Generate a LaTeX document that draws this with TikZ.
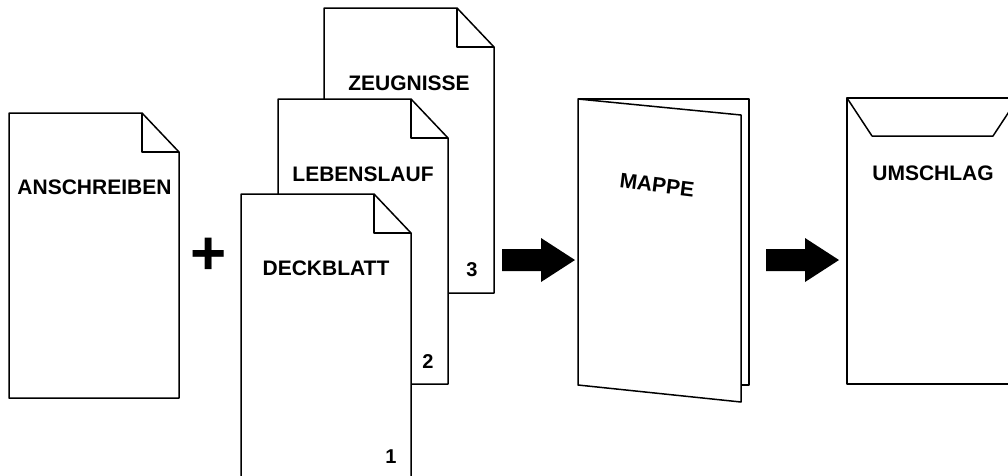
\documentclass[tikz,border=0pt]{standalone}
\usepackage{fontspec}
\setmainfont{Liberation Sans}
\begin{document}
\begin{tikzpicture}[x=1pt, y=-1pt, line width=1.5pt, line join=round,
  sheet/.style={draw=black, fill=white},
  title/.style={font=\bfseries\fontsize{21}{24}\selectfont, inner sep=0pt},
  pagenum/.style={font=\bfseries\fontsize{20}{24}\selectfont, inner sep=0pt},
  docsheet/.pic={
    \path[sheet] (0,0) -- (133,0) -- (170,39) -- (170,285) -- (0,285) -- cycle;
    \draw (133,0) -- (133,39) -- (170,39);
  },
  blockarrow/.pic={
    \fill[black] (0,-11) -- (39,-11) -- (39,-22) -- (73,0) -- (39,22) -- (39,11) -- (0,11) -- cycle;
  }]
\clip (0,0) rectangle (1008,475);

% cover letter
\pic at (9,113) {docsheet};
\node[title] (anschreiben) at (94.5,187) {ANSCHREIBEN};

\node[font=\bfseries\fontsize{62}{62}\selectfont, inner sep=0pt] (plus) at (209,256) {+};

% stack of documents, back to front
\pic at (324,8) {docsheet};
\node[title] (zeugnisse) at (409,83) {ZEUGNISSE};
\node[pagenum] (n3) at (472,270) {3};

\pic at (278,99) {docsheet};
\node[title] (lebenslauf) at (363,174) {LEBENSLAUF};
\node[pagenum] (n2) at (428,362) {2};

\pic at (241,194) {docsheet};
\node[title] (deckblatt) at (326,268) {DECKBLATT};
\node[pagenum] (n1) at (391,457) {1};

% arrow to the folder
\pic at (502,260) {blockarrow};

% folder
\path[sheet] (578,99) -- (749,99) -- (749,385) -- (741,385);
\path[sheet] (578,99) -- (741,115) -- (741,402) -- (578,385) -- cycle;
\node[title, rotate=-7] (mappe) at (657,185) {MAPPE};

% arrow to the envelope
\pic at (766,260) {blockarrow};

% envelope
\path[sheet] (847,98) rectangle (1019,384);
\draw (847,98) -- (872,136) -- (993,136) -- (1018,98);
\node[title] (umschlag) at (933,173) {UMSCHLAG};
\end{tikzpicture}
\end{document}
